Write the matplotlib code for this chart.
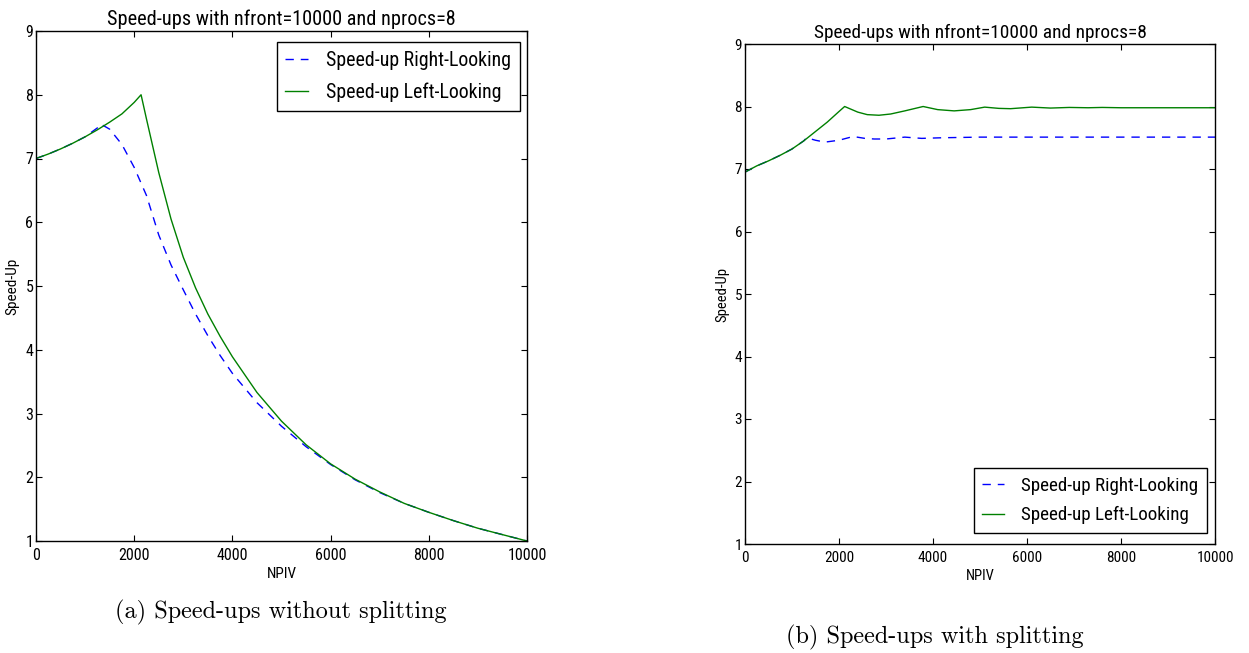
import matplotlib
matplotlib.use("Agg")
import matplotlib.pyplot as plt

# ---------------- data ----------------
npiv_a_right = [0, 250, 500, 750, 1000, 1250, 1320, 1500, 1750, 2000, 2250, 2500, 2750,
                3000, 3250, 3500, 3750, 4000, 4500, 5000, 5500, 6000, 6500, 7000,
                7500, 8000, 8500, 9000, 9500, 10000]
speedup_a_right = [7.00, 7.07, 7.15, 7.24, 7.34, 7.48, 7.54, 7.46, 7.22, 6.86, 6.42, 5.80, 5.33,
                   4.94, 4.56, 4.22, 3.91, 3.63, 3.17, 2.80, 2.48, 2.20, 1.96, 1.76,
                   1.59, 1.45, 1.32, 1.20, 1.10, 1.00]

npiv_a_left = [0, 250, 500, 750, 1000, 1250, 1500, 1750, 2000, 2140, 2250, 2500, 2750,
               3000, 3250, 3500, 3750, 4000, 4500, 5000, 5500, 6000, 6500, 7000,
               7500, 8000, 8500, 9000, 9500, 10000]
speedup_a_left = [7.00, 7.07, 7.15, 7.24, 7.34, 7.45, 7.57, 7.70, 7.88, 8.00, 7.62, 6.78, 6.05,
                  5.45, 4.97, 4.56, 4.21, 3.89, 3.33, 2.88, 2.51, 2.21, 1.97, 1.77,
                  1.59, 1.45, 1.32, 1.20, 1.10, 1.00]

npiv_b_right = [0, 250, 500, 750, 1000, 1250, 1310, 1500, 1700, 2000, 2300, 2550, 2750,
                3000, 3400, 3760, 4200, 5000, 6000, 7000, 8000, 9000, 10000]
speedup_b_right = [6.95, 7.05, 7.13, 7.22, 7.32, 7.45, 7.50, 7.46, 7.43, 7.46, 7.52, 7.49, 7.48,
                   7.48, 7.51, 7.49, 7.50, 7.51, 7.51, 7.51, 7.51, 7.51, 7.51]

npiv_b_left = [0, 250, 500, 750, 1000, 1250, 1500, 1750, 2000, 2120, 2400, 2600, 2850,
               3100, 3400, 3790, 4100, 4450, 4800, 5100, 5400, 5650, 6100, 6500,
               6900, 7300, 7600, 8000, 9000, 10000]
speedup_b_left = [6.95, 7.05, 7.13, 7.22, 7.32, 7.45, 7.60, 7.75, 7.92, 8.00, 7.91, 7.87, 7.86,
                  7.88, 7.93, 8.00, 7.95, 7.93, 7.95, 7.99, 7.97, 7.965, 7.99, 7.975,
                  7.985, 7.98, 7.985, 7.98, 7.98, 7.98]

label_right = "Speed-up Right-Looking"
label_left = "Speed-up Left-Looking"
title_text = "Speed-ups with nfront=10000 and nprocs=8"
xlabel_text = "NPIV"
ylabel_text = "Speed-Up"
caption_a = "(a) Speed-ups without splitting"
caption_b = "(b) Speed-ups with splitting"
xticks = [0, 2000, 4000, 6000, 8000, 10000]
yticks = [1, 2, 3, 4, 5, 6, 7, 8, 9]

# ---------------- style ----------------
plt.rcParams["font.family"] = ["Roboto Condensed", "DejaVu Sans"]
blue = (0, 0, 1)
green = (0, 0.5, 0)

W, H = 1249, 653
fig = plt.figure(figsize=(W / 100, H / 100), dpi=100)


def px_axes(x0, y0, x1, y1):
    return fig.add_axes([x0 / W, 1 - y1 / H, (x1 - x0) / W, (y1 - y0) / H])


ax_a = px_axes(36, 31, 527, 541)
ax_b = px_axes(745, 44, 1215, 544)

panels = [
    (ax_a, (npiv_a_right, speedup_a_right, npiv_a_left, speedup_a_left),
     "upper right", (0.986, 0.978), 1.0),
    (ax_b, (npiv_b_right, speedup_b_right, npiv_b_left, speedup_b_left),
     "lower right", (0.983, 0.022), 0.955),
]

for ax, (xr, yr, xl, yl), loc, anchor, k in panels:
    ax.plot(xr, yr, color=blue, lw=1.0, ls=(0, (6, 5)), label=label_right)
    ax.plot(xl, yl, color=green, lw=1.0, ls="-", label=label_left)
    ax.set_xlim(0, 10000)
    ax.set_ylim(1, 9)
    ax.set_xticks(xticks)
    ax.set_yticks(yticks)
    ax.set_xticklabels([str(t) for t in xticks])
    ax.set_yticklabels([str(t) for t in yticks])
    ax.tick_params(direction="in", length=4.5, width=0.8, top=True, right=True,
                   labelsize=11.5 * k, color="black")
    ax.tick_params(axis="y", pad=2)
    ax.tick_params(axis="x", pad=5)
    for s in ax.spines.values():
        s.set_linewidth(1.0)
        s.set_color("black")
    ax.set_title(title_text, fontsize=14.6 * k, pad=4)
    ax.set_xlabel(xlabel_text, fontsize=11 * k, labelpad=3)
    ax.set_ylabel(ylabel_text, fontsize=11 * k, labelpad=4)
    leg = ax.legend(loc=loc, bbox_to_anchor=anchor, borderaxespad=0, fontsize=14.3 * k,
                    frameon=True, fancybox=False, shadow=False, framealpha=1,
                    edgecolor="black", handlelength=1.15, handletextpad=0.9,
                    borderpad=0.45, labelspacing=0.6)
    leg.get_frame().set_linewidth(1.0)

fig.text(281 / W, 1 - 612 / H, caption_a, family="cmr10", fontsize=17.5,
         ha="center", va="center")
fig.text(935 / W, 1 - 637 / H, caption_b, family="cmr10", fontsize=17.5,
         ha="center", va="center")

fig.savefig("out.png", dpi=100)
